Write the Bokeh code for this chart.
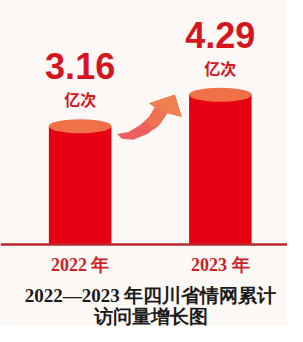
from bokeh.plotting import figure
from bokeh.models import Range1d, Span, Label, ColumnDataSource
from bokeh.core.properties import value
from bokeh.embed import file_html
from bokeh.resources import INLINE

# ---- data ----
years = ["2022 年", "2023 年"]
visits = [3.16, 4.29]          # 亿次
value_labels = ["3.16", "4.29"]
unit_labels = ["亿次", "亿次"]
title_lines = ["2022—2023 年四川省情网累计", "访问量增长图"]

# ---- layout constants ----
W, H = 287, 326
BG = "#fbf8f5"
RED = "#e60012"
TOP = "#f07048"
TXT_RED = "#d4161f"
BASE = -1.08

idx = list(range(len(years)))
src = ColumnDataSource(dict(x=idx, top=visits, vl=value_labels, ul=unit_labels, yr=years,
                            base=[BASE] * len(idx)))

p = figure(width=W, height=H, output_backend="svg", toolbar_location=None,
           x_range=Range1d(-0.568, 1.479), y_range=Range1d(-4.02, 7.67),
           min_border=0, background_fill_color=BG, border_fill_color=BG,
           outline_line_color=None)
p.axis.visible = False
p.grid.visible = False

# cylinders
bw = 0.446
p.vbar(x="x", bottom="base", top="top", width=bw, source=src,
       fill_color=RED, line_color=None)
p.ellipse(x="x", y="top", width=bw, height=14, height_units="screen", source=src,
          fill_color=TOP, line_color=None)

# baseline
p.add_layout(Span(location=BASE, dimension="width", line_color="#b8282f", line_width=2.5))

# curved arrow between the two bars (shape in normalised coords between bar1 and bar2)
x0, x1 = idx[0] + bw / 2, idx[1] - bw / 2
y0, y1 = visits[0], visits[1]

def arrow_part(u, v, color):
    ax = [x0 + a * (x1 - x0) for a in u]
    ay = [y0 + b * (y1 - y0) for b in v]
    p.patch(ax, ay, fill_color=color, line_color=None)

arrow_part([0.073, 0.22, 0.366, 0.488, 0.561, 0.488, 0.817, 0.902, 0.72, 0.622, 0.463, 0.28, 0.134],
           [-0.242, -0.18, 0.03, 0.30, 0.606, 0.727, 1.0, 0.303, 0.424, 0.06, -0.242, -0.424, -0.394],
           "#ee6060")
arrow_part([0.43, 0.488, 0.561, 0.488, 0.817, 0.902, 0.72, 0.622, 0.56],
           [0.17, 0.30, 0.606, 0.727, 1.0, 0.303, 0.424, 0.06, -0.09],
           "#ef7352")
arrow_part([0.561, 0.488, 0.817, 0.902, 0.72],
           [0.606, 0.727, 1.0, 0.303, 0.424],
           "#f08050")

# value labels
p.text(x="x", y="top", text="vl", source=src, y_offset=-60,
       text_align="center", text_baseline="middle",
       text_font=value("Liberation Sans"),
       text_font_style="bold", text_font_size="36px", text_color=TXT_RED)
p.text(x="x", y="top", text="ul", source=src, y_offset=-27,
       text_align="center", text_baseline="middle",
       text_font=value("Noto Sans CJK SC"), text_font_style="bold",
       text_font_size="16px", text_color=TXT_RED)

# year labels
p.text(x="x", y="base", text="yr", source=src, y_offset=20,
       text_align="center", text_baseline="middle",
       text_font=value("Liberation Serif"), text_font_style="bold",
       text_font_size="18px", text_color="#cc1f2a")

# title
for i, line in enumerate(title_lines):
    p.add_layout(Label(x=150, y=31 - 20.5 * i, x_units="screen", y_units="screen",
                       text=line, text_align="center", text_baseline="middle",
                       text_font="Liberation Serif", text_font_style="bold",
                       text_font_size="19px", text_color="#1a1a1a"))

open("out.html", "w").write(file_html(p, INLINE))
